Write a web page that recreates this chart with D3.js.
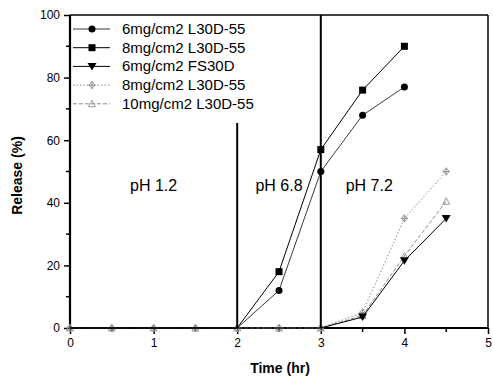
<!DOCTYPE html>
<html>
<head>
<meta charset="utf-8">
<script src="https://cdn.jsdelivr.net/npm/d3@7"></script>
<style>
  body { margin: 0; background: #fff; }
  svg { display: block; font-family: "Liberation Sans", Arial, sans-serif; }
</style>
</head>
<body>
<div id="chart"></div>
<script>
// time points (hr)
const times = [0, 0.5, 1, 1.5, 2, 2.5, 3, 3.5, 4, 4.5];

// release (%) per formulation, null = not measured
const s6mgL30 = [0, 0, 0, 0, 0, 12, 50, 68, 77, null];
const s8mgL30 = [0, 0, 0, 0, 0, 18, 57, 76, 90, null];
const s6mgFS30 = [0, 0, 0, 0, 0, 0, 0, 3.5, 21.5, 35];
const s8mgL30b = [0, 0, 0, 0, 0, 0, 0, 5, 35, 50];
const s10mgL30 = [0, 0, 0, 0, 0, 0, 0, 4, 23, 40.5];

const seriesNames = ['6mg/cm2 L30D-55', '8mg/cm2 L30D-55', '6mg/cm2 FS30D', '8mg/cm2 L30D-55', '10mg/cm2 L30D-55'];

const xTicks = [0, 1, 2, 3, 4, 5];
const yTicks = [0, 20, 40, 60, 80, 100];

// pH phase boundaries and labels
const phaseLines = [{ x: 2, top: 65.5 }, { x: 3, top: 100 }];
const phaseLabels = [{ text: 'pH 1.2', x: 1 }, { text: 'pH 6.8', x: 2.5 }, { text: 'pH 7.2', x: 3.58 }];

const width = 493, height = 380;
const margin = { left: 70, right: 5, top: 15, bottom: 52 };

const svg = d3.select('#chart').append('svg')
  .attr('width', width)
  .attr('height', height);

const x = d3.scaleLinear().domain([0, 5]).range([margin.left, width - margin.right]);
const y = d3.scaleLinear().domain([0, 100]).range([height - margin.bottom, margin.top]);

const styles = [
  { values: s6mgL30, color: '#222', width: 0.9, dash: null, shape: 'circle', hideZero: true },
  { values: s8mgL30, color: '#000', width: 1, dash: null, shape: 'square', hideZero: true },
  { values: s6mgFS30, color: '#000', width: 1, dash: null, shape: 'tridown', hideZero: true },
  { values: s8mgL30b, color: '#8c8c8c', width: 1, dash: '1.5,2', shape: 'cross', hideZero: false },
  { values: s10mgL30, color: '#8c8c8c', width: 1, dash: '4,2', shape: 'triup', hideZero: false }
];

function drawMarker(g, shape, cx, cy, color) {
  if (shape === 'circle') {
    g.append('circle').attr('cx', cx).attr('cy', cy).attr('r', 3.5).attr('fill', '#000');
  } else if (shape === 'square') {
    g.append('rect').attr('x', cx - 3.5).attr('y', cy - 3.5).attr('width', 7).attr('height', 7).attr('fill', '#000');
  } else if (shape === 'tridown') {
    g.append('path').attr('d', `M${cx - 4.5},${cy - 3.5}L${cx + 4.5},${cy - 3.5}L${cx},${cy + 4}Z`).attr('fill', '#000');
  } else if (shape === 'cross') {
    g.append('path').attr('d', `M${cx},${cy - 3.5}L${cx + 3},${cy}L${cx},${cy + 3.5}L${cx - 3},${cy}Z`)
      .attr('fill', 'none').attr('stroke', color).attr('stroke-width', 0.9);
    g.append('path').attr('d', `M${cx - 3.5},${cy}H${cx + 3.5}M${cx},${cy - 4}V${cy + 4}`)
      .attr('stroke', color).attr('stroke-width', 0.9);
  } else if (shape === 'triup') {
    g.append('path').attr('d', `M${cx - 3.5},${cy + 3}L${cx + 3.5},${cy + 3}L${cx},${cy - 3.5}Z`)
      .attr('fill', 'none').attr('stroke', color).attr('stroke-width', 0.9);
  }
}

// axes first so the gray baseline markers sit on top of the thick axis
const xAxis = svg.append('g')
  .attr('transform', `translate(0,${y(0)})`)
  .call(d3.axisBottom(x).tickValues(xTicks).tickFormat(d3.format('d')).tickSize(6).tickPadding(4));
const yAxis = svg.append('g')
  .attr('transform', `translate(${x(0)},0)`)
  .call(d3.axisLeft(y).tickValues(yTicks).tickSize(6).tickPadding(4));

// minor ticks
svg.append('g').selectAll('line')
  .data(d3.range(0.5, 5, 1))
  .enter().append('line')
  .attr('x1', d => x(d)).attr('x2', d => x(d))
  .attr('y1', y(0)).attr('y2', y(0) + 4)
  .attr('stroke', '#000').attr('stroke-width', 1.5);
svg.append('g').selectAll('line')
  .data(d3.range(10, 100, 20))
  .enter().append('line')
  .attr('x1', x(0) - 4).attr('x2', x(0))
  .attr('y1', d => y(d)).attr('y2', d => y(d))
  .attr('stroke', '#000').attr('stroke-width', 1.5);

[xAxis, yAxis].forEach(a => {
  a.select('.domain').attr('stroke-width', 2.2);
  a.selectAll('.tick line').attr('stroke-width', 1.5);
  a.selectAll('text').style('font-size', '12px').style('font-family', '"Liberation Sans", Arial, sans-serif').attr('fill', '#000');
});
xAxis.select('.domain').attr('d', `M${x(0)},0H${x(5)}`);
yAxis.select('.domain').attr('d', `M0,${y(0)}V${y(100)}`);

// series lines + markers (gray first so black sits on top)
const order = [4, 3, 0, 1, 2];
order.forEach(i => {
  const s = styles[i];
  const pts = times.map((t, k) => ({ t, v: s.values[k] })).filter(d => d.v !== null);
  const line = d3.line().x(d => x(d.t)).y(d => y(d.v));
  svg.append('path')
    .datum(pts)
    .attr('d', line)
    .attr('fill', 'none')
    .attr('stroke', s.color)
    .attr('stroke-width', s.width)
    .attr('stroke-dasharray', s.dash);
  const g = svg.append('g');
  pts.filter(d => !(s.hideZero && d.v === 0))
    .forEach(d => drawMarker(g, s.shape, x(d.t), y(d.v), s.color));
});

// phase boundary lines
phaseLines.forEach(p => {
  svg.append('line')
    .attr('x1', x(p.x)).attr('x2', x(p.x))
    .attr('y1', y(0)).attr('y2', y(p.top))
    .attr('stroke', '#000').attr('stroke-width', 2);
});

// phase labels
svg.selectAll('.phase')
  .data(phaseLabels)
  .enter()
  .append('text')
  .attr('class', 'phase')
  .attr('x', d => x(d.x))
  .attr('y', 191)
  .attr('text-anchor', 'middle')
  .style('font-size', '16px')
  .style('fill', '#000')
  .text(d => d.text);

// frame
svg.append('line').attr('x1', x(0)).attr('x2', x(5)).attr('y1', y(100)).attr('y2', y(100))
  .attr('stroke', '#000').attr('stroke-width', 1.5);
svg.append('line').attr('x1', x(5)).attr('x2', x(5)).attr('y1', y(0)).attr('y2', y(100))
  .attr('stroke', '#000').attr('stroke-width', 1.5);

// axis titles
svg.append('text')
  .attr('x', (x(0) + x(5)) / 2 + 1)
  .attr('y', 373)
  .attr('text-anchor', 'middle')
  .style('font-size', '14px')
  .style('font-weight', 'bold')
  .text('Time (hr)');
svg.append('text')
  .attr('transform', `translate(22,${(y(0) + y(100)) / 2 + 4}) rotate(-90)`)
  .attr('text-anchor', 'middle')
  .style('font-size', '14px')
  .style('font-weight', 'bold')
  .text('Release (%)');

// legend
const legend = svg.append('g');
styles.forEach((s, i) => {
  const ly = 29 + i * 18.7;
  legend.append('line')
    .attr('x1', 73).attr('x2', 110)
    .attr('y1', ly).attr('y2', ly)
    .attr('stroke', s.color)
    .attr('stroke-width', s.width)
    .attr('stroke-dasharray', s.dash);
  drawMarker(legend, s.shape, 92, ly, s.color);
  legend.append('text')
    .attr('x', 122)
    .attr('y', ly + 5)
    .style('font-size', '15px')
    .text(seriesNames[i]);
});
</script>
</body>
</html>
